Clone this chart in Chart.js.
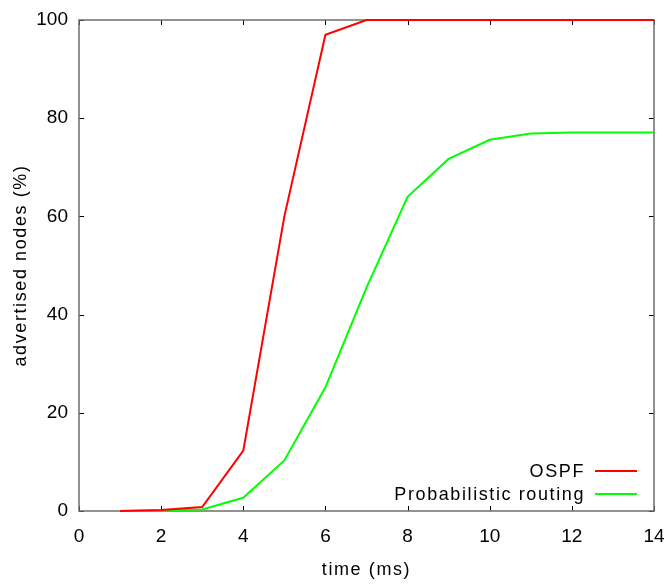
<!DOCTYPE html>
<html>
<head>
<meta charset="utf-8">
<script src="https://cdn.jsdelivr.net/npm/chart.js@4.4.1/dist/chart.umd.min.js"></script>
<style>
  html, body { margin: 0; padding: 0; background: #fff; }
</style>
</head>
<body>
<canvas id="chart" width="669" height="585"></canvas>
<script>
// time (ms)
const times = [1, 2, 3, 4, 5, 6, 7, 8, 9, 10, 11, 12, 13, 14];
// advertised nodes (%)
const ospf = [0, 0.2, 0.8, 12.3, 60, 97, 100, 100, 100, 100, 100, 100, 100, 100];
const probabilistic = [0, 0.1, 0.3, 2.7, 10.3, 25.2, 45.5, 64, 71.7, 75.6, 76.9, 77.1, 77.1, 77.1];

const seriesLabels = ['OSPF', 'Probabilistic routing'];
const xTitle = 'time (ms)';
const yTitle = 'advertised nodes (%)';

const FONT = '"Liberation Sans", Arial, sans-serif';

// gnuplot look: grey box, ticks pointing inward on all four sides,
// axis titles and a right-aligned key in the lower right corner
const gnuplotFrame = {
    id: 'gnuplotFrame',
    beforeDatasetsDraw(chart) {
        const { ctx, chartArea: a, scales } = chart;
        ctx.save();
        ctx.strokeStyle = '#000';
        ctx.lineWidth = 1;
        ctx.beginPath();
        scales.x.ticks.forEach(t => {
            const px = Math.round(scales.x.getPixelForValue(t.value)) + 0.5;
            ctx.moveTo(px, a.bottom); ctx.lineTo(px, a.bottom - 5);
            ctx.moveTo(px, a.top); ctx.lineTo(px, a.top + 5);
        });
        scales.y.ticks.forEach(t => {
            const py = Math.round(scales.y.getPixelForValue(t.value)) + 0.5;
            ctx.moveTo(a.left, py); ctx.lineTo(a.left + 5, py);
            ctx.moveTo(a.right, py); ctx.lineTo(a.right - 5, py);
        });
        ctx.stroke();
        ctx.strokeStyle = '#6e6e6e';
        ctx.lineWidth = 1.5;
        ctx.strokeRect(a.left, a.top, a.right - a.left, a.bottom - a.top);
        ctx.restore();
    },
    afterDraw(chart) {
        const { ctx, chartArea: a } = chart;
        ctx.save();
        ctx.fillStyle = '#000';
        ctx.font = '18px ' + FONT;
        ctx.letterSpacing = '1.6px';
        ctx.textBaseline = 'middle';

        // axis titles
        ctx.textAlign = 'center';
        ctx.fillText(xTitle, (a.left + a.right) / 2, 570);
        ctx.save();
        ctx.translate(21, (a.top + a.bottom) / 2);
        ctx.rotate(-Math.PI / 2);
        ctx.fillText(yTitle, 0, 0);
        ctx.restore();

        // key
        ctx.textAlign = 'right';
        chart.data.datasets.forEach((ds, i) => {
            const y = a.bottom - 40 + i * 23;
            ctx.fillText(ds.label, a.right - 69, y + 1);
            ctx.strokeStyle = ds.borderColor;
            ctx.lineWidth = 2;
            ctx.beginPath();
            ctx.moveTo(a.right - 59, y);
            ctx.lineTo(a.right - 17, y);
            ctx.stroke();
        });
        ctx.restore();
    }
};

new Chart(document.getElementById('chart'), {
    type: 'line',
    data: {
        labels: times,
        datasets: [
            {
                label: seriesLabels[0],
                data: times.map((t, i) => ({ x: t, y: ospf[i] })),
                borderColor: '#ff0000',
                borderWidth: 2,
                pointRadius: 0,
                tension: 0,
                clip: 4
            },
            {
                label: seriesLabels[1],
                data: times.map((t, i) => ({ x: t, y: probabilistic[i] })),
                borderColor: '#00ff00',
                borderWidth: 2,
                pointRadius: 0,
                tension: 0,
                clip: 4
            }
        ]
    },
    options: {
        responsive: false,
        animation: false,
        layout: { padding: { top: 20, right: 15, left: 0, bottom: 0 } },
        plugins: {
            legend: { display: false },
            tooltip: { enabled: false }
        },
        scales: {
            x: {
                type: 'linear',
                min: 0,
                max: 14,
                grid: { display: false, drawTicks: false },
                border: { display: false },
                ticks: {
                    stepSize: 2,
                    color: '#000',
                    padding: 14,
                    maxRotation: 0,
                    font: { family: FONT, size: 19 }
                },
                afterFit(scale) {
                    scale.height = 74;
                    scale.paddingLeft = 0;
                    scale.paddingRight = 0;
                }
            },
            y: {
                min: 0,
                max: 100,
                grid: { display: false, drawTicks: false },
                border: { display: false },
                ticks: {
                    stepSize: 20,
                    color: '#000',
                    padding: 11,
                    font: { family: FONT, size: 19 }
                },
                afterFit(scale) {
                    scale.width = 79;
                    scale.paddingTop = 0;
                    scale.paddingBottom = 0;
                }
            }
        }
    },
    plugins: [gnuplotFrame]
});
</script>
</body>
</html>
